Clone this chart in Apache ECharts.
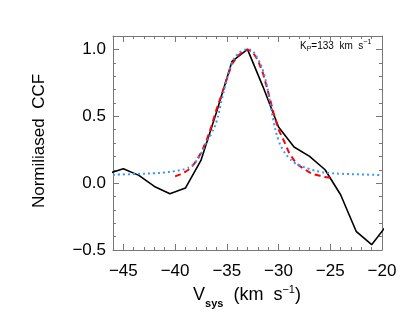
<!DOCTYPE html>
<html>
<head>
<meta charset="utf-8">
<script src="https://cdn.jsdelivr.net/npm/echarts@6/dist/echarts.min.js"></script>
<style>html,body{margin:0;padding:0;background:#fff}#main{width:415px;height:322px}</style>
</head>
<body>
<div id="main"></div>
<script>
// observed CCF (black solid)
var vObs = [-46.5, -45, -43.5, -42, -40.5, -39, -37.5, -36, -34.5, -33, -31.5, -30, -28.5, -27, -25.5, -24, -22.5, -21, -19.5];
var ccfObs = [0.07, 0.107, 0.058, -0.025, -0.08, -0.037, 0.17, 0.53, 0.91, 1.0, 0.72, 0.42, 0.27, 0.2, 0.1, -0.087, -0.36, -0.46, -0.31];

// gaussian fit (red dashed)
var vFit = [-40, -39.5, -39, -38.5, -38, -37.5, -37, -36.5, -36, -35.5, -35, -34.5, -34, -33.5, -33, -32.5, -32, -31.5, -31, -30.5, -30, -29.5, -29, -28.5, -28, -27.5, -27, -26.5, -26, -25.5, -25];
var ccfFit = [0.05, 0.065, 0.085, 0.11, 0.16, 0.225, 0.31, 0.42, 0.55, 0.66, 0.78, 0.89, 0.945, 0.98, 1.0, 0.98, 0.92, 0.82, 0.68, 0.53, 0.4, 0.32, 0.23, 0.17, 0.13, 0.105, 0.08, 0.065, 0.055, 0.045, 0.04];

// model (blue dotted)
var vModel = [-46, -44, -42, -41, -40, -39.5, -39, -38.5, -38, -37.5, -37, -36.5, -36, -35.5, -35, -34.5, -34, -33.5, -33, -32.5, -32, -31.5, -31, -30.5, -30, -29.5, -29, -28.5, -28, -27, -26, -25, -24, -22, -20];
var ccfModel = [0.063, 0.068, 0.074, 0.08, 0.09, 0.097, 0.107, 0.125, 0.16, 0.22, 0.3, 0.37, 0.46, 0.62, 0.77, 0.9, 0.96, 0.99, 1.0, 0.985, 0.93, 0.84, 0.68, 0.47, 0.32, 0.24, 0.19, 0.155, 0.135, 0.105, 0.085, 0.075, 0.07, 0.065, 0.06];

var xMajor = [-45, -40, -35, -30, -25, -20];
var yMajor = [-0.5, 0, 0.5, 1.0];

function pairs(xs, ys) {
  var out = [];
  for (var i = 0; i < xs.length; i++) out.push([xs[i], ys[i]]);
  return out;
}

var frame = '#777';
var font = 'Liberation Sans, Arial, sans-serif';

function xAx(pos, major, labels) {
  return {
    type: 'value', position: pos, min: -46, max: -20,
    interval: major ? undefined : 1,
    axisLine: { show: !major, onZero: false, lineStyle: { color: frame, width: 1 } },
    axisTick: major
      ? { show: true, inside: true, length: 6, customValues: xMajor, lineStyle: { color: frame } }
      : { show: true, inside: true, length: 3, lineStyle: { color: frame } },
    axisLabel: labels ? {
      show: true, color: '#000', fontSize: 17, fontFamily: font, margin: 13,
      formatter: function (v) { return v % 5 === 0 ? String(v).replace('-', '\u2212') : ''; }
    } : { show: false },
    splitLine: { show: false }
  };
}

function yAx(pos, major, labels) {
  return {
    type: 'value', position: pos, min: -0.5, max: 1.1,
    interval: major ? undefined : 0.1,
    axisLine: { show: !major, onZero: false, lineStyle: { color: frame, width: 1 } },
    axisTick: major
      ? { show: true, inside: true, length: 6, customValues: yMajor, lineStyle: { color: frame } }
      : { show: true, inside: true, length: 3, lineStyle: { color: frame } },
    axisLabel: labels ? {
      show: true, color: '#000', fontSize: 17, fontFamily: font, margin: 7,
      formatter: function (v) {
        if (Math.abs(v * 2 - Math.round(v * 2)) > 1e-6 || v > 1.05) return '';
        return v.toFixed(1).replace('-', '\u2212');
      }
    } : { show: false },
    splitLine: { show: false }
  };
}

var myChart = echarts.init(document.getElementById('main'));

var option = {
  backgroundColor: '#fff',
  animation: false,
  grid: { left: 113, right: 33, top: 36, bottom: 72, outerBoundsMode: 'none' },
  xAxis: [xAx('bottom', false, true), xAx('bottom', true, false), xAx('top', false, false), xAx('top', true, false)],
  yAxis: [yAx('left', false, true), yAx('left', true, false), yAx('right', false, false), yAx('right', true, false)],
  graphic: [
    {
      type: 'text', x: 39, y: 141, rotation: Math.PI / 2,
      style: { text: 'Normiliased  CCF', font: '17px ' + font, fill: '#000', align: 'center', verticalAlign: 'middle' }
    },
    {
      type: 'text', x: 247, y: 295,
      style: {
        text: '{v|V}{s|sys}{v|  (km  s}{u|\u22121}{v|)}',
        align: 'center', verticalAlign: 'middle', fill: '#000',
        rich: {
          v: { fontSize: 18, fontFamily: font, lineHeight: 22, verticalAlign: 'middle' },
          s: { fontSize: 11, fontFamily: font, fontWeight: 'bold', lineHeight: 22, verticalAlign: 'bottom', padding: [0, 0, -3, 0] },
          u: { fontSize: 11, fontFamily: font, lineHeight: 22, verticalAlign: 'top' }
        }
      }
    },
    {
      type: 'text', x: 300, y: 46,
      style: {
        text: '{v|K}{s|P}{v|=133  km  s}{u|\u22121}',
        align: 'left', verticalAlign: 'middle', fill: '#000',
        rich: {
          v: { fontSize: 10, fontFamily: font, lineHeight: 14, verticalAlign: 'middle' },
          s: { fontSize: 7, fontFamily: font, lineHeight: 14, verticalAlign: 'bottom' },
          u: { fontSize: 7, fontFamily: font, lineHeight: 14, verticalAlign: 'top' }
        }
      }
    }
  ],
  series: [
    {
      name: 'observed', type: 'line', data: pairs(vObs, ccfObs), showSymbol: false, symbol: 'none',
      lineStyle: { color: '#000', width: 1.6 }, clip: true, z: 3
    },
    {
      name: 'fit', type: 'line', data: pairs(vFit, ccfFit), symbol: 'none', smooth: false,
      lineStyle: { color: '#ff0000', width: 2, type: [6, 4] }, z: 4
    },
    {
      name: 'model', type: 'line', data: pairs(vModel, ccfModel), symbol: 'none', smooth: true,
      lineStyle: { color: '#3399ff', width: 2, type: [2, 3] }, z: 5
    }
  ]
};

myChart.setOption(option);
</script>
</body>
</html>
